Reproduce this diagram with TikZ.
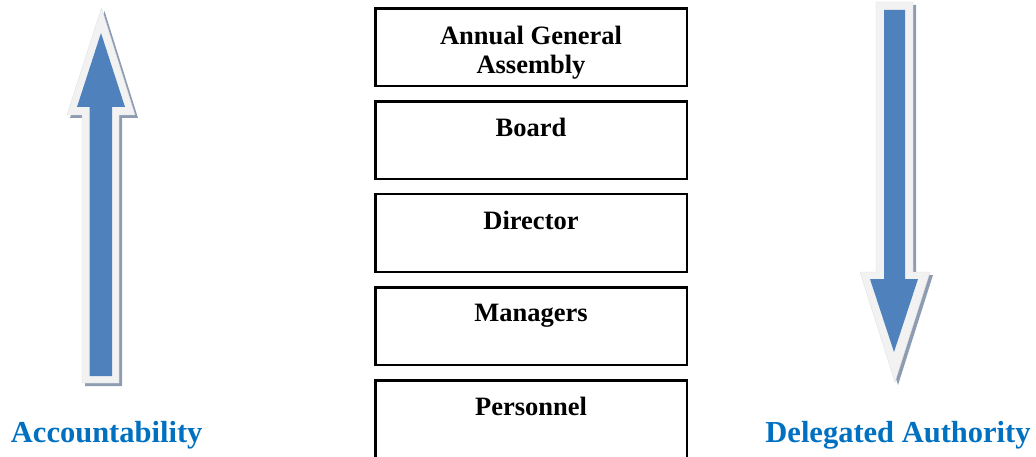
\documentclass[tikz,border=0pt]{standalone}
\usepackage{fontspec}
\setmainfont{Liberation Serif}
\definecolor{arrowblue}{HTML}{4F81BD}
\definecolor{rimgray}{HTML}{F2F2F2}
\definecolor{shadowgray}{HTML}{8E9CB2}
\definecolor{labelblue}{HTML}{0070C0}
\begin{document}
\begin{tikzpicture}[x=1pt,y=-1pt,
  level/.style={draw=black, line width=2.5pt, minimum width=311.5pt,
    minimum height=77.5pt, inner sep=0pt, anchor=north west},
  leveltext/.style={font=\bfseries\fontsize{26.5}{29}\selectfont,
    align=center, anchor=north, inner sep=0pt},
  sidelabel/.style={font=\bfseries\fontsize{30.5}{36}\selectfont,
    text=labelblue, anchor=base, inner sep=0pt},
  rim/.style={fill=rimgray, draw=black!12, line width=0.4pt},
  dropshade/.style={fill=shadowgray},
  core/.style={fill=arrowblue}]
\useasboundingbox (0,0) rectangle (1036,457);

% hierarchy boxes
\node[level] (agm) at (374,7.5) {};
\node[level] (board) at (374,100.3) {};
\node[level] (director) at (374,193) {};
\node[level] (managers) at (374,286) {};
\node[level] (personnel) at (374,379) {};

\node[leveltext] (agmtext) at ([yshift=-18pt]agm.north) {Annual General\\Assembly};
\node[leveltext] (boardtext) at ([yshift=-18pt]board.north) {Board};
\node[leveltext] (directortext) at ([yshift=-18pt]director.north) {Director};
\node[leveltext] (managerstext) at ([yshift=-18pt]managers.north) {Managers};
\node[leveltext] (personneltext) at ([yshift=-18pt]personnel.north) {Personnel};

% upward arrow: accountability
\def\uprim{(101.5,8) -- (135,115) -- (119,115) -- (119,383) -- (82,383) -- (82,115) -- (67,115) -- cycle}
\fill[dropshade, shift={(3,3)}] \uprim;
\filldraw[rim] \uprim;
\fill[core] (101,33) -- (125,107) -- (112,107) -- (112,376) -- (89.5,376) -- (89.5,107) -- (77,107) -- cycle;

% downward arrow: delegated authority
\def\downrim{(876,2) -- (913,2) -- (913,272) -- (930,272) -- (895,382) -- (860,272) -- (876,272) -- cycle}
\fill[dropshade, shift={(3,3)}] \downrim;
\filldraw[rim] \downrim;
\fill[core] (884,10) -- (905,10) -- (905,279) -- (918,279) -- (894,352) -- (870,279) -- (884,279) -- cycle;

% side labels
\node[sidelabel] (acc) at (106.7,442.7) {Accountability};
\node[sidelabel] (del) at (898,442.7) {Delegated Authority};
\end{tikzpicture}
\end{document}
